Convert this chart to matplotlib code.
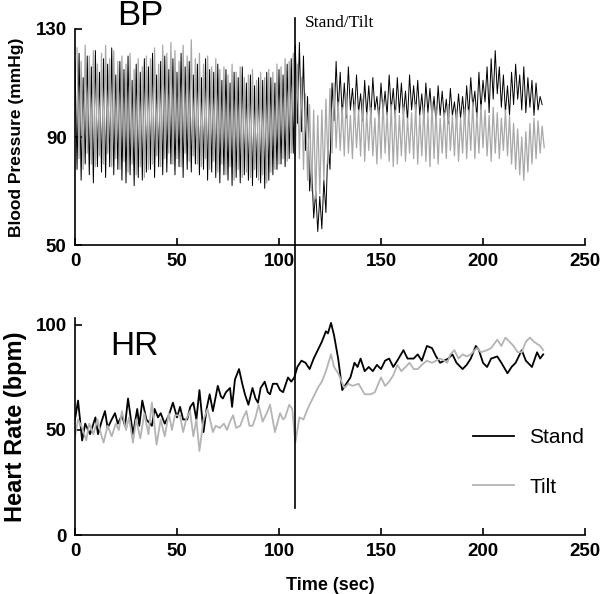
import numpy as np
import matplotlib
matplotlib.use('Agg')
import matplotlib.pyplot as plt
import matplotlib.transforms as mtransforms
from matplotlib.lines import Line2D

plt.rcParams['font.family'] = ['Liberation Sans', 'DejaVu Sans']

# ---- heart rate (bpm) ----
stand_hr_t = [0, 1.5, 3.5, 5, 7.4, 10, 11.3, 13, 14.7, 16,
              18, 19.6, 21, 23, 24.5, 26, 28.4, 30.5, 31.5, 33,
              35, 37.7, 39, 40.7, 42, 44, 46, 48, 50, 51.5,
              53, 55, 56.5, 58, 59.5, 61, 63, 64.5, 66, 67.6,
              70, 71.5, 72.5, 74, 76, 77, 78.4, 80.4, 82, 83.3,
              85, 87, 88.5, 89.7, 91, 93, 94.5, 95.6, 97, 99,
              100.5, 102, 104.4, 106, 107.5, 109, 111, 113, 115, 117,
              119, 121, 123, 124, 125.5, 127, 129, 131, 133, 135,
              137, 138.5, 140, 142, 144, 146, 148, 150, 152, 154,
              156, 158, 161, 163, 166, 168, 170, 172.5, 175, 177,
              179, 181, 183, 185, 187, 190, 192, 194, 196.5, 198,
              200, 202, 204, 207, 209, 212, 214, 216, 219, 221,
              224, 226.5, 228, 229.5]
stand_hr = [55, 64, 45, 53, 48, 56, 48, 54, 59, 51,
            55, 58, 53, 57, 52, 65, 48, 60, 52, 64,
            55, 52, 60, 56, 58, 53, 57, 63, 56, 61,
            55, 55, 61, 63, 55, 69, 49, 60, 67, 59,
            71, 66, 65, 68, 70, 61, 74, 79, 72, 67,
            62, 70, 65, 63, 70, 73, 68, 67, 72, 72,
            69, 68, 75, 73, 75, 80, 83, 82, 79, 84,
            88, 92, 97, 96, 101, 95, 84, 69, 72, 75,
            82, 80, 84, 78, 80, 78, 81, 79, 83, 84,
            80, 83, 88, 84, 84, 86, 83, 90, 89, 85,
            82, 83, 84, 86, 82, 79, 81, 84, 90, 88,
            82, 80, 84, 85, 82, 77, 80, 82, 88, 83,
            80, 87, 84, 86]

tilt_hr_t = [0, 1.5, 3.5, 5.5, 7, 9, 11, 12.5, 14, 16,
             18, 20, 21.5, 23, 25, 26.5, 28.4, 30, 32, 34,
             36, 37.7, 40, 42, 44, 46, 47.5, 49, 51.5, 53,
             54.5, 56.4, 58, 59.5, 61, 63, 65, 67.6, 69, 71,
             73, 74.5, 76, 77.5, 79, 81, 82.5, 84, 85.5, 87,
             88.5, 90, 92, 94, 95.6, 98, 100.5, 102, 103, 105,
             106.5, 108, 110, 112, 114, 116, 119, 121, 123, 125.5,
             127, 129, 132, 134, 136, 139, 142, 145, 147, 150,
             152, 154, 156, 158, 160, 162, 164, 166, 168, 170,
             172.5, 175, 177, 179, 181, 182.5, 184, 186, 188, 190,
             192, 194, 197, 199, 202, 204, 207, 209, 211, 213,
             215, 217, 219, 221, 223, 225, 226.5, 228, 229.5]
tilt_hr = [47, 55, 51, 45, 53, 48, 55, 49, 44, 52,
           47, 53, 50, 59, 50, 56, 44, 55, 46, 58,
           48, 63, 43, 55, 47, 58, 50, 57, 57, 49,
           55, 59, 47, 55, 40, 55, 60, 49, 52, 51,
           53, 50, 54, 57, 51, 52, 56, 59, 52, 52,
           56, 62, 54, 58, 62, 49, 58, 55, 56, 62,
           60, 44, 56, 55, 60, 64, 70, 73, 78, 86,
           80, 77, 70, 72, 71, 72, 67, 67, 68, 75,
           71, 73, 76, 81, 78, 80, 82, 79, 79, 81,
           83, 82, 83, 84, 83, 82, 86, 88, 84, 86,
           85, 86, 89, 87, 88, 89, 93, 90, 94, 92,
           90, 87, 87, 92, 94, 92, 91, 90, 88]

# ---- blood pressure (mmHg), one systolic / diastolic pair every 2 s ----
stand_sys = [118, 121, 112, 120, 116, 122, 114, 119, 117, 123, 113, 118,
             115, 120, 111, 117, 114, 119, 116, 121, 113, 118, 120, 115,
             119, 114, 121, 116, 118, 113, 117, 112, 119, 115, 114, 117,
             111, 115, 110, 114, 112, 116, 110, 113, 109, 112, 111, 114,
             112, 110, 115, 113, 117, 119, 124, 125, 120, 105, 80, 70,
             68, 74, 88, 110, 118, 114, 110, 116, 108, 113, 106, 111,
             109, 112, 105, 110, 107, 113, 108, 112, 110, 107, 113, 109,
             111, 106, 110, 108, 105, 109, 107, 104, 108, 103, 106, 105,
             109, 112, 107, 114, 111, 116, 119, 122, 116, 113, 109, 114,
             117, 113, 116, 112, 111, 110, 105]
stand_dia = [78, 74, 80, 76, 73, 79, 77, 75, 79, 76, 78, 74,
             73, 76, 72, 75, 74, 77, 78, 75, 79, 76, 77, 80,
             76, 79, 75, 78, 77, 80, 76, 78, 74, 77, 75, 73,
             76, 74, 72, 75, 73, 76, 74, 72, 75, 73, 71, 74,
             76, 78, 80, 79, 82, 84, 95, 92, 85, 70, 60, 55,
             56, 62, 78, 96, 99, 98, 97, 100, 98, 99, 96, 98,
             97, 100, 96, 99, 98, 100, 97, 99, 98, 96, 100, 99,
             98, 96, 99, 97, 95, 98, 97, 95, 98, 96, 97, 96,
             98, 101, 97, 100, 103, 99, 104, 106, 101, 99, 98, 102,
             104, 100, 99, 101, 98, 100, 102]
tilt_sys = [123, 118, 124, 120, 122, 117, 121, 124, 119, 122, 118, 120,
            117, 121, 115, 119, 116, 120, 119, 123, 117, 124, 121, 125,
            122, 118, 124, 120, 126, 119, 121, 117, 120, 116, 119, 115,
            116, 113, 117, 114, 116, 112, 113, 115, 111, 114, 112, 115,
            114, 117, 116, 119, 118, 121, 117, 112, 106, 102, 100, 98,
            100, 104, 108, 110, 103, 101, 106, 98, 102, 100, 104, 99,
            101, 97, 100, 103, 99, 102, 100, 98, 101, 97, 99, 102,
            98, 101, 99, 103, 100, 97, 99, 102, 98, 100, 97, 101,
            100, 103, 99, 102, 100, 98, 101, 99, 97, 100, 98, 95,
            93, 90, 92, 95, 97, 96, 94]
tilt_dia = [82, 78, 84, 80, 79, 83, 80, 84, 79, 82, 78, 81,
            77, 80, 76, 79, 75, 78, 80, 83, 79, 82, 84, 80,
            82, 79, 84, 81, 83, 80, 79, 82, 78, 81, 77, 80,
            76, 79, 74, 78, 75, 77, 75, 78, 74, 76, 73, 77,
            78, 80, 82, 81, 84, 83, 82, 78, 74, 70, 67, 69,
            74, 80, 84, 86, 85, 83, 84, 82, 86, 83, 81, 85,
            83, 80, 82, 84, 81, 79, 80, 83, 81, 84, 82, 80,
            83, 81, 79, 82, 80, 84, 82, 85, 83, 81, 84, 82,
            85, 82, 84, 86, 83, 81, 84, 82, 85, 83, 80, 78,
            76, 74, 77, 80, 82, 84, 86]

stand_time = 108
x_ticks = [0, 50, 100, 150, 200, 250]


def pulse_trace(sys_vals, dia_vals, offset):
    # systolic at each beat, diastolic one second later
    n = len(sys_vals)
    beats = np.arange(n) * 2.0 + offset
    t = np.empty(2 * n)
    y = np.empty(2 * n)
    t[0::2] = beats
    t[1::2] = beats + 1
    y[0::2] = sys_vals
    y[1::2] = dia_vals
    return t, y


def style_axes(ax):
    for side in ['top', 'right']:
        ax.spines[side].set_visible(False)
    for side in ['left', 'bottom']:
        ax.spines[side].set_linewidth(1.2)
    ax.tick_params(direction='in', length=5, width=1.2, labelsize=13.5, pad=6)
    for lab in ax.get_xticklabels() + ax.get_yticklabels():
        lab.set_fontweight('bold')


fig = plt.figure(figsize=(6.0, 5.94), dpi=100)
ax1 = fig.add_axes([0.125, 0.5875, 0.85, 0.3637])
ax2 = fig.add_axes([0.125, 0.0993, 0.85, 0.3653])

# BP panel
t_s, y_s = pulse_trace(stand_sys, stand_dia, 0)
t_t, y_t = pulse_trace(tilt_sys, tilt_dia, 1)
ax1.plot(t_s, y_s, color='black', lw=0.7)
ax1.plot(t_t, y_t, color='#a8a8a8', lw=0.9)
ax1.set_xlim(0, 250)
ax1.set_ylim(50, 130)
ax1.set_xticks(x_ticks)
ax1.set_yticks([50, 90, 130])
ax1.set_ylabel('Blood Pressure (mmHg)', fontsize=12.5, fontweight='bold', labelpad=8)
style_axes(ax1)

# HR panel
ax2.plot(stand_hr_t, stand_hr, color='black', lw=1.3, label='Stand')
ax2.plot(tilt_hr_t, tilt_hr, color='#b4b4b4', lw=1.3, label='Tilt')
ax2.set_xlim(0, 250)
ax2.set_ylim(0, 103.3)
ax2.set_xticks(x_ticks)
ax2.set_yticks([0, 50, 100])
ax2.set_ylabel('Heart Rate (bpm)', fontsize=17, fontweight='bold', labelpad=6)
ax2.set_xlabel('Time (sec)', fontsize=13, fontweight='bold', labelpad=12)
style_axes(ax2)
ax2.legend(loc='center left', bbox_to_anchor=(0.78, 0.334), frameon=False,
           fontsize=15, handlelength=2.0, handletextpad=0.7, labelspacing=1.45,
           borderpad=0, borderaxespad=0)

# panel titles
fig.text(0.195, 0.958, 'BP', fontsize=25, ha='left', va='baseline')
fig.text(0.183, 0.402, 'HR', fontsize=24, ha='left', va='baseline')

# stand/tilt marker running through both panels
blend = mtransforms.blended_transform_factory(ax1.transData, fig.transFigure)
fig.add_artist(Line2D([stand_time, stand_time], [0.1448, 0.9697],
                      transform=blend, color='black', lw=1.2))
fig.text(0.508, 0.955, 'Stand/Tilt', fontsize=12.5, ha='left', va='baseline',
         family='Liberation Serif')

fig.savefig('out.png', dpi=100)
